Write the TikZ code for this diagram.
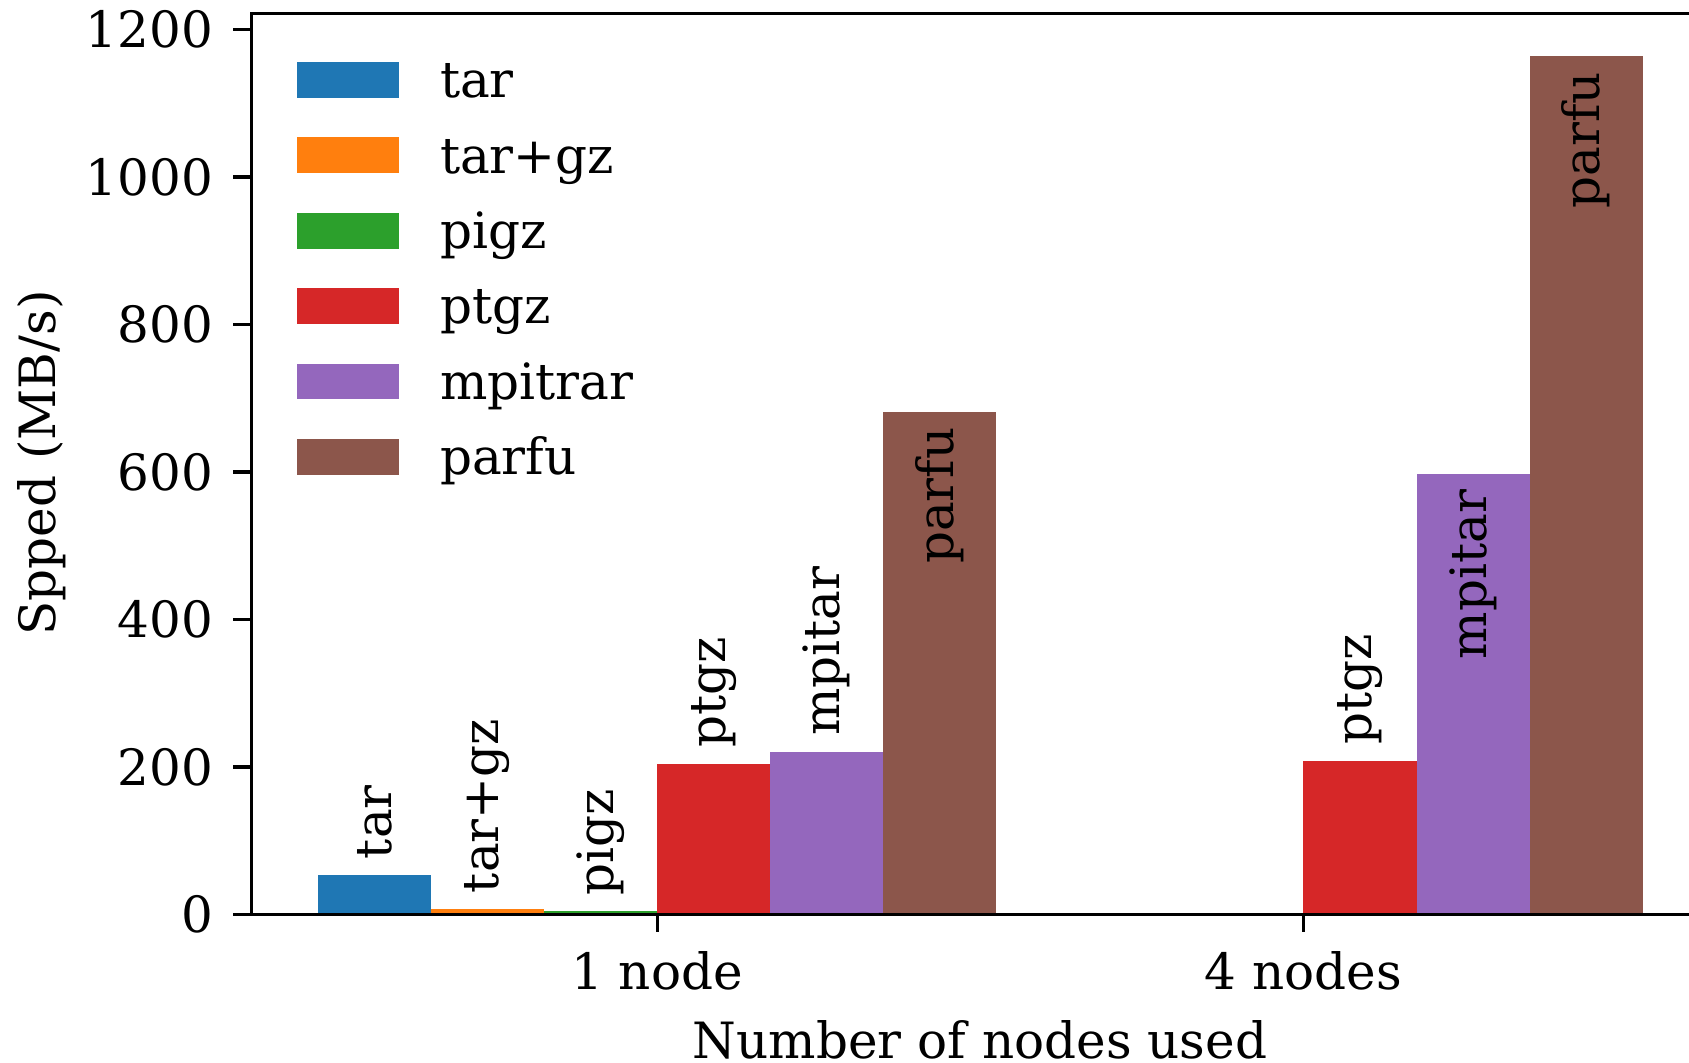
\documentclass[tikz,border=0pt]{standalone}
\usepackage{fontspec}
\setmainfont{DejaVu Serif}
\definecolor{ctar}{HTML}{1F77B4}
\definecolor{ctargz}{HTML}{FF7F0E}
\definecolor{cpigz}{HTML}{2CA02C}
\definecolor{cptgz}{HTML}{D62728}
\definecolor{cmpitar}{HTML}{9467BD}
\definecolor{cparfu}{HTML}{8C564B}
\tikzset{
  txt/.style={font=\fontsize{25pt}{30pt}\selectfont, inner sep=0pt, outer sep=0pt},
  spine/.style={line width=1.75pt, line join=miter},
  tickmark/.style={line width=1.6pt},
  outlbl/.style={txt, rotate=90, anchor=west},
  inlbl/.style={txt, rotate=90, anchor=east},
}
\begin{document}
\begin{tikzpicture}[x=0.5pt, y=-0.5pt]
\useasboundingbox (0,0) rectangle (1689,1062);
\fill[white] (0,0) rectangle (1689,1062);

% data frame: u (group units), v (MB/s)
\begin{scope}[shift={(657.1,914.4)}, x=323.15pt, y=0.36875pt]
  % 1 node
  \fill[ctar]    (-0.525,0) rectangle (-0.35,53.4);
  \fill[ctargz]  (-0.35,0)  rectangle (-0.175,7.3);
  \fill[cpigz]   (-0.175,0) rectangle (0,4.6);
  \fill[cptgz]   (0,0)      rectangle (0.175,204.3);
  \fill[cmpitar] (0.175,0)  rectangle (0.35,220.3);
  \fill[cparfu]  (0.35,0)   rectangle (0.525,681.9);
  % 4 nodes
  \fill[cptgz]   (1,0)      rectangle (1.175,208.7);
  \fill[cmpitar] (1.175,0)  rectangle (1.35,597.2);
  \fill[cparfu]  (1.35,0)   rectangle (1.525,1164);

  % bar labels
  \node[outlbl] (l1) at (-0.4375,75.1) {tar};
  \node[outlbl] (l2) at (-0.2625,29.0) {tar+gz};
  \node[outlbl] (l3) at (-0.0875,26.3) {pigz};
  \node[outlbl] (l4) at (0.0875,226.0) {ptgz};
  \node[outlbl] (l5) at (0.2625,242.0) {mpitar};
  \node[inlbl]  (l6) at (0.4375,660.2) {parfu};
  \node[outlbl] (l7) at (1.0875,230.4) {ptgz};
  \node[inlbl]  (l8) at (1.2625,575.5) {mpitar};
  \node[inlbl]  (l9) at (1.4375,1142.3) {parfu};
\end{scope}

% y ticks and labels
\foreach \v in {0,200,400,600,800,1000,1200}{
  \pgfmathsetmacro{\yy}{914.4-0.7375*\v}
  \draw[tickmark] (233,\yy) -- (251.5,\yy);
  \node[txt, anchor=east] (ytl\v) at (213,\yy) {\v};
}

% x ticks
\draw[tickmark] (657.1,914.4) -- (657.1,932);
\draw[tickmark] (1303.4,914.4) -- (1303.4,932);
\node[txt, anchor=base] (xt1) at (657.1,989.3) {1 node};
\node[txt, anchor=base] (xt4) at (1303.4,989.3) {4 nodes};

% spines
\draw[spine] (1689,13.3) -- (251.5,13.3) -- (251.5,914.4) -- (1689,914.4);

% axis labels
\node[txt, anchor=base] (xlab) at (980,1058.3) {Number of nodes used};
\node[txt, anchor=base, rotate=90] (ylab) at (55,463) {Spped (MB/s)};

% legend
\foreach \c/\t [count=\i from 0] in {ctar/tar, ctargz/tar+gz, cpigz/pigz, cptgz/ptgz, cmpitar/mpitrar, cparfu/parfu}{
  \pgfmathsetmacro{\yt}{62+75.4*\i}
  \pgfmathsetmacro{\yb}{97.7+75.4*\i}
  \fill[\c] (296.7,\yt) rectangle (399,\yb);
  \node[txt, anchor=base west] (leg\i) at (440,\yb) {\t};
}
\end{tikzpicture}
\end{document}
